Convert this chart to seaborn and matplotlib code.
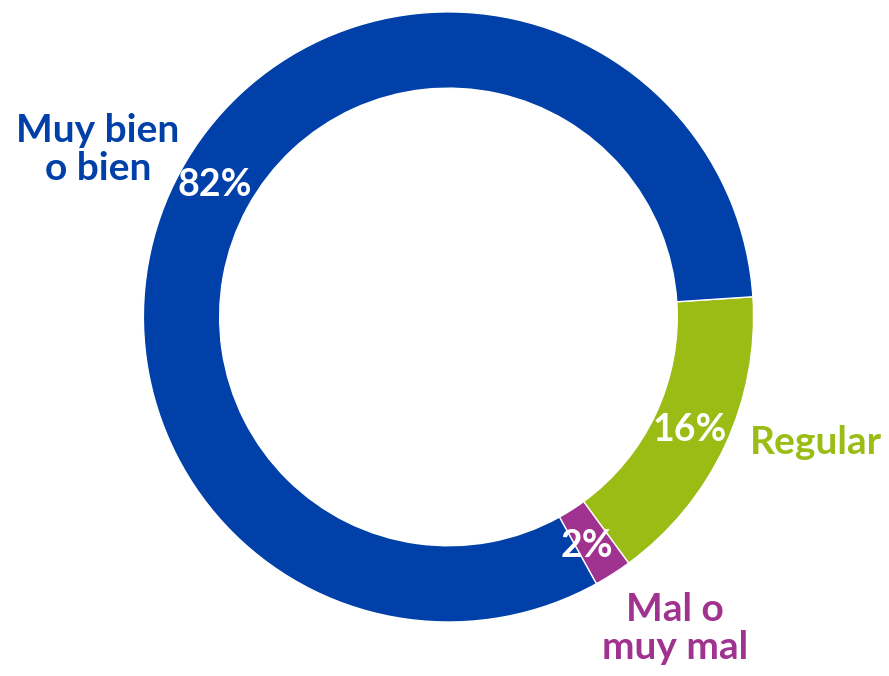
import numpy as np
import seaborn as sns
import matplotlib.pyplot as plt

# data, in drawing order (clockwise from the right)
categories = ["Regular", "Mal o\nmuy mal", "Muy bien\no bien"]
shares = [16, 2, 82]
colors = ["#9BBC15", "#A0338F", "#0040A8"]

sns.set_theme(style="white")
plt.rcParams['font.family'] = ['Lato', 'DejaVu Sans']

fig = plt.figure(figsize=(8.89, 6.76), dpi=100)
ax = fig.add_axes([0, 0, 1, 1])
ax.pie(shares, colors=colors, startangle=3.8, counterclock=False, radius=1,
       wedgeprops=dict(width=0.25, edgecolor='white', linewidth=1))

# label spots (data coords, ring radius = 1)
pct_pos = [(0.792, -0.372), (0.454, -0.751), (-0.766, 0.433)]
name_pos = [(1.205, -0.413), (0.743, -1.020), (-1.149, 0.548)]
for cat, val, col, pp, npos in zip(categories, shares, colors, pct_pos, name_pos):
    ax.text(pp[0], pp[1], f"{val}%", color='white', fontsize=27, fontweight='bold',
            ha='center', va='center')
    ax.text(npos[0], npos[1], cat, color=col, fontsize=28, fontweight='bold',
            ha='center', va='center', linespacing=1.1)

ax.set_aspect('auto')
ax.set_xlim(-1.470, 1.444)
ax.set_ylim(-1.177, 1.039)
ax.axis('off')
fig.savefig("out.png", dpi=100)
